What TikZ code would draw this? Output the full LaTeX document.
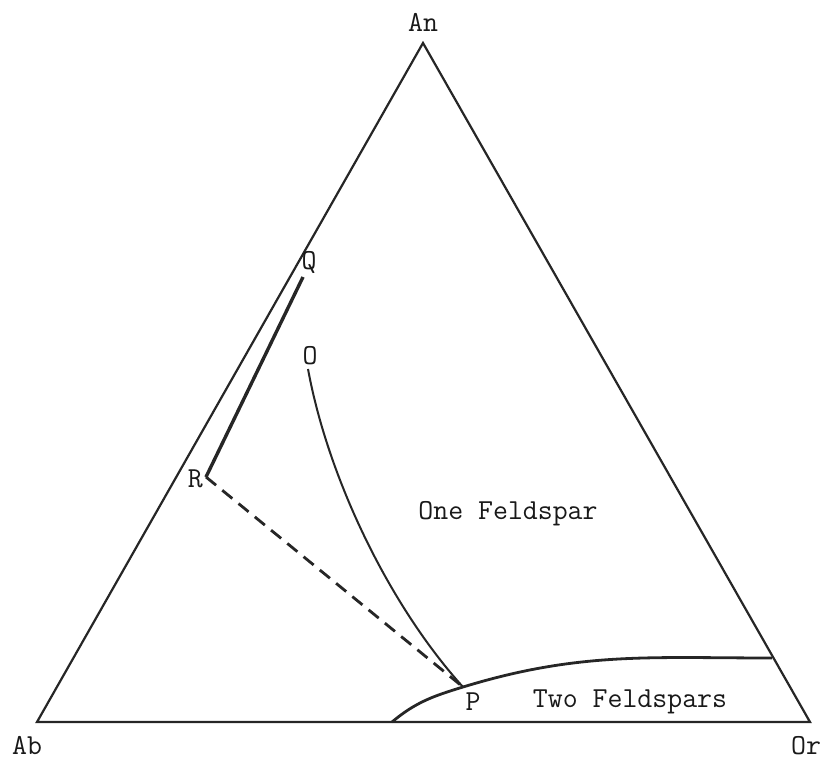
\documentclass[tikz,border=0pt]{standalone}
\usepackage{xcolor}
\usetikzlibrary{positioning, calc}

\begin{document}
\begin{tikzpicture}[
  x=1pt, y=1pt,
  lbl/.style={font=\fontsize{29}{31}\selectfont\ttfamily, text=black!90, inner sep=0pt},
  side/.style={draw=black!85, line width=2.2pt, line join=miter},
  tieline/.style={draw=black!85, line width=3.4pt},
  dashline/.style={draw=black!85, line width=2.8pt, dash pattern=on 13pt off 8pt},
  trend/.style={draw=black!85, line width=2pt},
  solvus/.style={draw=black!85, line width=2.8pt}
]
  \useasboundingbox (0,0) rectangle (833,761);

  % corners of the ternary
  \coordinate (Ab) at (37,39);
  \coordinate (Or) at (810,39);
  \coordinate (An) at (423,718);
  \node[lbl] (AnL) at (423,739) {An};
  \node[lbl] (AbL) at (27,15) {Ab};
  \node[lbl] (OrL) at (806,15) {Or};
  \draw[side] (Ab) -- (An) -- (Or) -- cycle;

  % points
  \coordinate (Q) at (303,484);
  \coordinate (R) at (206,284);
  \coordinate (O) at (308,392);
  \coordinate (P) at (463,74);
  \coordinate (S1) at (392,39);
  \coordinate (S2) at (772,103);
  \node[lbl] (QL) at (309,499) {Q};
  \node[lbl, anchor=east] (RL) at (203,282) {R};
  \node[lbl] (OL) at (310,405) {O};
  \node[lbl] (PL) at (473,59) {P};

  \draw[tieline] (Q) -- (R);
  \draw[dashline] (R) -- (P);
  \draw[trend] (O) .. controls (328,283) and (389,156) .. (P);
  \draw[solvus] (S1) to[out=40, in=197] (P) to[out=17, in=180] (S2);

  % fields
  \node[lbl] (one) at (508,247) {One Feldspar};
  \node[lbl] (two) at (630,59) {Two Feldspars};
\end{tikzpicture}
\end{document}
